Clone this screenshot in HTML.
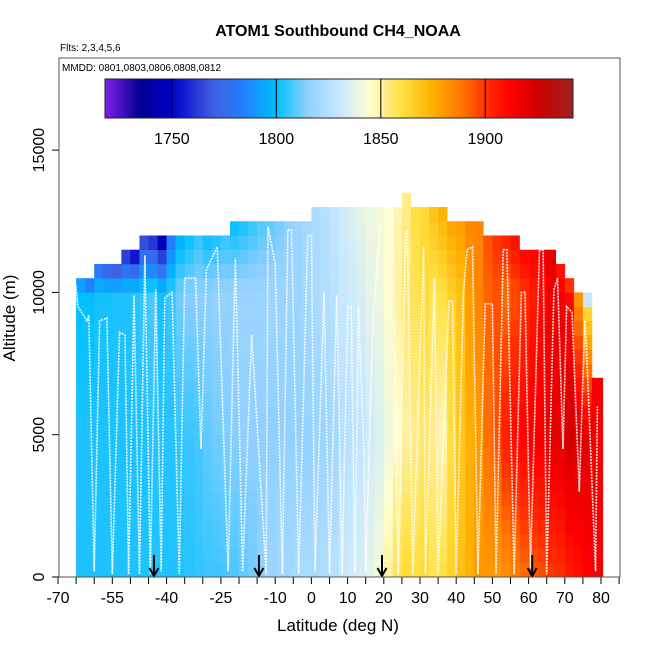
<!DOCTYPE html>
<html><head><meta charset="utf-8"><style>
html,body{margin:0;padding:0;background:#fff;}
svg{display:block;font-family:"Liberation Sans",Arial,sans-serif;}
</style></head><body>
<svg id="chart" width="650" height="650" viewBox="0 0 650 650">
<text x="338" y="36" text-anchor="middle" font-size="16" font-weight="bold">ATOM1 Southbound CH4_NOAA</text>
<text x="60" y="51" font-size="10">Flts: 2,3,4,5,6</text>
<g id="heat"></g>
<g id="track"></g>
<g id="axes"></g>
<rect x="59" y="58" width="561" height="519" fill="none" stroke="#555" stroke-width="1"/>
<text x="62" y="71" font-size="10">MMDD: 0801,0803,0806,0808,0812</text>
<g id="cbar"></g>
<text x="338" y="631" text-anchor="middle" font-size="17">Latitude (deg N)</text>
<text transform="translate(15,318) rotate(-90)" text-anchor="middle" font-size="17">Altitude (m)</text>
</svg>
<script>
const binLat=[-65,-62.5,-60,-57.5,-55,-52.5,-50,-47.5,-45,-42.5,-40,-37.5,-35,-32.5,-30,-27.5,-25,-22.5,-20,-17.5,-15,-12.5,-10,-7.5,-5,-2.5,0,2.5,5,7.5,10,12.5,15,17.5,20,22.5,25,27.5,30,32.5,35,37.5,40,42.5,45,47.5,50,52.5,55,57.5,60,62.5,65,67.5,70,72.5,75,77.5];
const binTop=[10500,10500,11000,11000,11000,11500,11500,12000,12000,12000,12000,12000,12000,12000,12000,12000,12000,12500,12500,12500,12500,12500,12500,12500,12500,12500,13000,13000,13000,13000,13000,13000,13000,13000,13000,13000,13500,13000,13000,13000,13000,12500,12500,12500,12500,12000,12000,12000,12000,11500,11500,11500,11500,11000,10500,10000,10000,7000];
const vSurf=[1803,1803,1803,1803,1803,1803,1803,1803,1803,1803,1803,1803,1804,1805,1806,1806,1807,1808,1810,1812,1815,1818,1820,1820,1822,1822,1822,1824,1826,1830,1832,1834,1838,1842,1850,1858,1862,1860,1862,1858,1860,1865,1870,1875,1880,1880,1880,1882,1885,1890,1893,1895,1898,1900,1905,1908,1912,1915];
const vMid=[1803,1803,1803,1803,1803,1803,1803,1803,1804,1804,1804,1805,1806,1807,1810,1812,1813,1814,1815,1815,1815,1815,1815,1815,1815,1816,1817,1818,1820,1825,1826,1828,1832,1835,1840,1845,1850,1852,1855,1852,1848,1860,1868,1875,1880,1890,1895,1905,1910,1912,1915,1915,1920,1920,1925,1922,1920,1915];
const vHigh=[1800,1800,1802,1802,1803,1803,1804,1806,1808,1802,1806,1812,1814,1815,1815,1816,1816,1817,1818,1818,1818,1818,1818,1818,1818,1820,1822,1824,1826,1830,1832,1834,1838,1840,1845,1850,1855,1858,1862,1858,1860,1865,1870,1880,1885,1892,1895,1890,1895,1900,1905,1910,1915,1915,1910,1885,1860,1915];
const vTop=[1785,1770,1775,1765,1760,1755,1745,1760,1755,1740,1780,1795,1800,1805,1800,1802,1805,1800,1802,1805,1808,1810,1812,1815,1818,1820,1822,1825,1828,1832,1835,1838,1840,1842,1845,1848,1852,1860,1862,1870,1875,1878,1880,1885,1885,1895,1900,1905,1910,1912,1912,1915,1920,1905,1890,1880,1800,1915];
const trackLat=[-66,-66.5,-65,-64.5,-62,-61.5,-60,-58.5,-56.5,-55,-53,-51.5,-50.5,-49,-47.5,-46,-44.5,-43,-41.5,-40.5,-38.5,-36.5,-35,-32,-30.5,-29,-26,-23,-21,-19,-16.5,-12.5,-12,-10,-8,-6.5,-5.5,-3.5,-1,0,1,3.5,5,7,8.5,10,11,12,13,14.5,15,17,19,20.5,21,22.5,24,26,26.5,28,31,31.5,34,35,38,39,40,42,43,44.5,46,48,50,51,53,54,56,58,59,60.5,63,64,65,67,68,69.5,70.5,72,74,75.5,76,78.5,79];
const trackAlt=[1500,10200,10200,9500,9000,9200,200,9000,9100,100,8600,8500,100,9900,100,11300,100,10100,200,9800,10000,100,10500,10500,4500,10800,11600,200,11200,200,8500,100,12300,11000,100,12200,12200,100,12000,12000,200,10000,100,9900,100,9500,9500,100,9500,4500,200,9000,12400,12300,12800,12800,100,12000,12200,100,11600,100,10500,100,9700,9700,100,10000,11500,11600,100,9600,9600,100,11500,11500,100,10000,10000,300,11500,11500,100,10100,10500,4500,9500,9300,3000,9000,8000,200,6000];
const arrowLat=[-43.5,-14.5,19.5,61];
const xTicks=[-70,-65,-60,-55,-50,-45,-40,-35,-30,-25,-20,-15,-10,-5,0,5,10,15,20,25,30,35,40,45,50,55,60,65,70,75,80,85];
const xLabels=[-70,-55,-40,-25,-10,0,10,20,30,40,50,60,70,80];
const yTicks=[0,5000,10000,15000];
const cbTicks=[1750,1800,1850,1900];
const cmapV=[1718,1735,1750,1770,1785,1800,1815,1830,1845,1850,1860,1875,1890,1900,1912,1925,1942];
const cmapC=["#8020e8","#000090","#0000c8","#4060e0","#2080ff","#00bfff","#90d0ff","#c8e8ff","#ffffd0","#fff0a0","#ffe040","#ffb000","#ff7000","#ff3000","#ff0000","#d00000","#a02020"];

const NS="http://www.w3.org/2000/svg";
const X=lat=>58+(lat+70)*3.62;
const Y=alt=>577-alt*(142.3/5000);
const CB=v=>105+(v-1718)*(468/224);
function hex(h){return [1,3,5].map(i=>parseInt(h.substr(i,2),16));}
function color(v){
  if(v<=cmapV[0])return cmapC[0];
  for(let i=1;i<cmapV.length;i++){
    if(v<=cmapV[i]){const t=(v-cmapV[i-1])/(cmapV[i]-cmapV[i-1]);const a=hex(cmapC[i-1]),b=hex(cmapC[i]);
      return "rgb("+a.map((c,k)=>Math.round(c+(b[k]-c)*t)).join(",")+")";}
  }
  return cmapC[cmapC.length-1];
}
function mk(tag,attrs,parent){const e=document.createElementNS(NS,tag);for(const k in attrs)e.setAttribute(k,attrs[k]);parent.appendChild(e);return e;}
function valAt(i,alt){
  const top=binTop[i];
  const pts=[[0,vSurf[i]],[5000,vMid[i]],[Math.min(10000,top-500),vHigh[i]],[top,vTop[i]]];
  for(let k=1;k<pts.length;k++){if(alt<=pts[k][0]){const d=pts[k][0]-pts[k-1][0];const t=d>0?(alt-pts[k-1][0])/d:1;return pts[k-1][1]+(pts[k][1]-pts[k-1][1])*t;}}
  return vTop[i];
}
const heat=document.getElementById('heat');
for(let i=0;i<binLat.length;i++){
  const w=(i===binLat.length-1)?3:2.5;
  for(let a=0;a<binTop[i];a+=500){
    const r=mk('rect',{x:X(binLat[i]),y:Y(a+500),width:X(binLat[i]+w)-X(binLat[i])+0.3,height:Y(a)-Y(a+500)+0.3,fill:color(valAt(i,a+250))},heat);
    
    
  }
}
const tr=document.getElementById('track');
const pl=mk('polyline',{points:trackLat.map((l,i)=>X(l)+","+Y(trackAlt[i])).join(" "),fill:"none",stroke:"#fff","stroke-width":1.6,"stroke-dasharray":"2,1","stroke-opacity":0.9},tr);


const ax=document.getElementById('axes');
arrowLat.forEach(l=>{
  const g=mk('g',{},ax);
  
  
  mk('line',{x1:X(l),y1:555,x2:X(l),y2:576,stroke:"#000","stroke-width":2},g);
  mk('polyline',{points:(X(l)-4.5)+",568 "+X(l)+",576 "+(X(l)+4.5)+",568",fill:"none",stroke:"#000","stroke-width":2},g);
});
mk('line',{x1:X(-70),y1:577,x2:X(85),y2:577,stroke:"#000","stroke-width":1},ax);
xTicks.forEach(t=>{const l=mk('line',{x1:X(t),y1:577,x2:X(t),y2:584,stroke:"#000"},ax);
  
  });
xLabels.forEach(t=>{const e=mk('text',{x:X(t),y:603,"text-anchor":"middle","font-size":16},ax);e.textContent=t;
  
  });
yTicks.forEach(t=>{mk('line',{x1:52,y1:Y(t),x2:59,y2:Y(t),stroke:"#000"},ax);
  const e=mk('text',{transform:"translate(44,"+Y(t)+") rotate(-90)","text-anchor":"middle","font-size":16},ax);e.textContent=t;
  
  });
const cb=document.getElementById('cbar');
for(let v=1718;v<1942;v+=1){const r=mk('rect',{x:CB(v),y:79,width:CB(v+1)-CB(v)+0.4,height:39,fill:color(v+0.5)},cb);
  
  }
mk('rect',{x:105,y:79,width:468,height:39,fill:"none",stroke:"#222"},cb);
cbTicks.forEach(t=>{mk('line',{x1:CB(t),y1:79,x2:CB(t),y2:118,stroke:"#000"},cb);
  const e=mk('text',{x:CB(t),y:144,"text-anchor":"middle","font-size":16},cb);e.textContent=t;
  
  });
</script>
</body></html>
